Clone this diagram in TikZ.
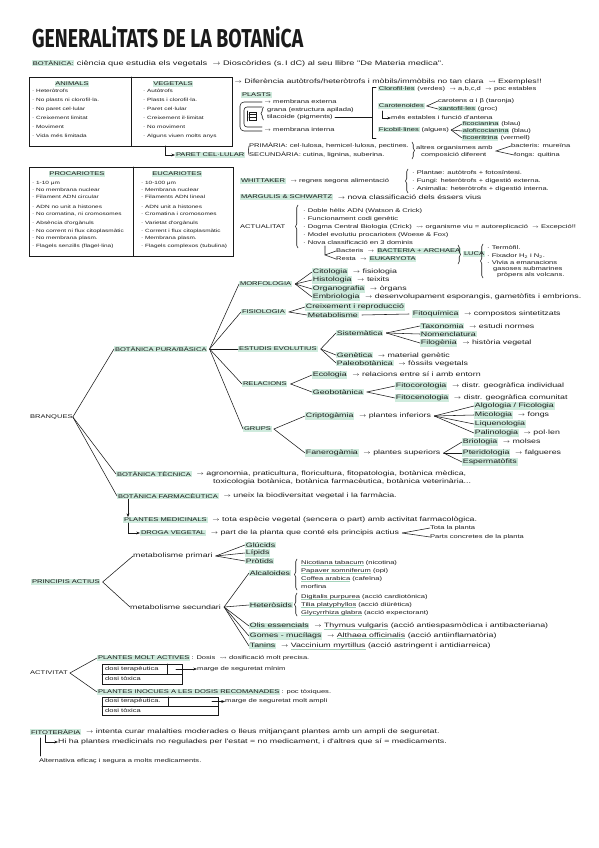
\documentclass[tikz,border=0pt]{standalone}
\usepackage{amssymb}
\usepackage{fontspec}
\usepackage{tikz}
\usetikzlibrary{arrows.meta,positioning,decorations.pathreplacing}
\newfontfamily\hand[FakeStretch=1.4]{Liberation Sans}
\newfontfamily\titlefont{Fira Sans}
\definecolor{ink}{HTML}{1A1A1A}
\definecolor{hlg}{HTML}{CFEBDD}
\definecolor{ulc}{HTML}{A3D3BB}
\newcommand\handfont{\hand\fontsize{6.3}{7}\selectfont}
\newcommand\smallhand{\hand\fontsize{5.4}{6}\selectfont}
\newcommand\boxhand{\hand\fontsize{4.6}{5.5}\selectfont}
\newcommand\ra{\ $\rightarrow$\ }
\newcommand\lra{\ $\leadsto$\ }
\newcommand\hl[1]{{\setlength{\fboxsep}{0.7pt}\colorbox{hlg}{#1}}}
\newcommand\ulg[1]{{\setbox0\hbox{#1}\rlap{\color{ulc}\rule[-1.4pt]{\wd0}{0.6pt}}\box0}}

\begin{document}
\begin{tikzpicture}[x=1pt,y=-1pt,font=\handfont,line cap=round,
  >={Stealth[length=1.3mm,width=1mm]},
  txt/.style={anchor=west,inner sep=0pt,text=ink},
  sm/.style={txt,font=\smallhand},
  bx/.style={txt,font=\boxhand},
  hd/.style={sm,fill=hlg,inner sep=0.8pt},
  ln/.style={draw=ink,line width=0.55pt},
  brc/.style={ln,decorate,decoration={brace,amplitude=2.5pt}}]
\useasboundingbox (0,0) rectangle (599,848);
% titol
\node[txt,anchor=south west] (title) at (32,48) {\resizebox{271pt}{21pt}{\titlefont\bfseries GENERALiTATS DE LA BOTANiCA}};
\node[txt,font=\hand\fontsize{6.6}{8}\selectfont] (def) at (32,63) {\hl{\smallhand BOTÀNICA:} ciència que estudia els vegetals \ra Dioscòrides (s.\,I dC) al seu llibre "De Materia medica".};
% animals / vegetals
\draw[ln] (29,77) rectangle (232,146) (131,77) -- (131,146);
\node[hd,anchor=center] (anim) at (72,84) {ANIMALS};
\node[hd,anchor=center] (vege) at (173,84) {VEGETALS};
\foreach \t [count=\i] in {Heteròtrofs,No plasts ni clorofil·la.,No paret cel·lular,Creixement limitat,Moviment,Vida més limitada}
  \node[bx] (an\i) at (32,{82+9*\i}) {· \t};
\foreach \t [count=\i] in {Autòtrofs,Plasts i clorofil·la.,Paret cel·lular,Creixement il·limitat,No moviment,Alguns viuen molts anys}
  \node[bx] (ve\i) at (143,{82+9*\i}) {· \t};
\node[txt] (dif) at (232,82) {\ra Diferència autòtrofs/heteròtrofs i mòbils/immòbils no tan clara \lra Exemples!!};
% plasts
\node[hd] (plasts) at (241,95) {PLASTS};
\draw[ln,rounded corners=4pt] (262,102) -- (240,102) -- (240,131) -- (262,131);
\draw[ln,rounded corners=3pt] (262,107) -- (244,107) -- (244,127) -- (262,127);
\draw[ln] (249,112) rectangle (256,120) (249,114.7) -- (256,114.7) (249,117.3) -- (256,117.3) (247,111) -- (247,121);
\node[sm] (mext) at (262,102) {\ra membrana externa};
\draw[brc] (263.5,120) -- (263.5,107);
\node[sm] (grana) at (267,110) {grana (estructura apilada)};
\node[sm] (tila) at (267,117) {tilacoide (pigments)};
\node[sm] (mint) at (262,130) {\ra membrana interna};
\coordinate (brk) at (372,117);
\draw[ln] ([xshift=2pt]tila.east) -- (brk);
\draw[ln] (376,87) -- (372,87) -- (372,138) -- (376,138);
\node[sm] (clf) at (378,89) {\hl{Clorofil·les} (verdes) \ra a,b,c,d \ra poc estables};
\node[sm] (car) at (378,106) {\hl{Carotenoides}};
\node[sm] (cart) at (438,101) {carotens α i β (taronja)};
\node[sm] (xan) at (438,109) {\hl{xantofil·les} (groc)};
\draw[ln] (cart.west) -- ([xshift=2pt]car.east) -- (xan.west);
\node[sm] (mes) at (391,118) {més estables i funció d'antena};
\draw[ln,->] (382,111) |- (mes.west);
\node[sm] (fic) at (378,130) {\hl{Ficobil·lines} (algues)};
\node[sm] (fic1) at (462,124) {\hl{ficocianina} (blau)};
\node[sm] (fic2) at (462,131) {\hl{aloficocianina} (blau)};
\node[sm] (fic3) at (462,138) {\hl{ficoeritrina} (vermell)};
\foreach \n in {fic1,fic2,fic3} \draw[ln] ([xshift=2pt]fic.east) -- (\n.west);
% paret
\node[hd] (paret) at (175,155) {PARET CEL·LULAR};
\draw[ln,->] (165,146) |- (paret.west);
\node[sm] (prim) at (249,146) {PRIMÀRIA: cel·lulosa, hemicel·lulosa, pectines.};
\node[sm] (secu) at (249,155) {SECUNDÀRIA: cutina, lignina, suberina.};
\coordinate (pv) at ([xshift=3pt,yshift=4pt]paret.east);
\draw[ln] (prim.west) -- (pv) -- (secu.west);
\draw[brc] (412,142) -- (412,159);
\node[sm] (altr) at (416,148) {altres organismes amb};
\node[sm] (comp) at (421,155) {composició diferent};
\coordinate (av) at ([xshift=3pt,yshift=-3pt]altr.east);
\node[sm] (bact) at (511,146) {bacteris: mureïna};
\node[sm] (fong) at (514,155) {fongs: quitina};
\draw[ln] (bact.west) -- (av) -- (fong.west);
% procariotes / eucariotes
\draw[ln] (29,167) rectangle (233,256) (133,167) -- (133,256);
\node[hd,anchor=center] (proc) at (77,174) {PROCARIOTES};
\node[hd,anchor=center] (euca) at (177,174) {EUCARIOTES};
\foreach \y/\t [count=\i] in {183/1-10 μm,190/No membrana nuclear,197/Filament ADN circular,207/ADN no unit a histones,214/{No cromatina, ni cromosomes},223/Absència d'orgànuls,231/No corrent ni flux citoplasmàtic,238/No membrana plasm.,246/Flagels senzills (flagel·lina)}
  \node[bx] (pr\i) at (32,\y) {· \t};
\foreach \y/\t [count=\i] in {183/10-100 μm,190/Membrana nuclear,197/Filaments ADN lineal,207/ADN unit a histones,214/Cromatina i cromosomes,223/Varietat d'orgànuls,231/Corrent i flux citoplasmàtic,238/Membrana plasm.,246/Flagels complexos (tubulina)}
  \node[bx] (eu\i) at (141,\y) {· \t};
% whittaker, margulis, actualitat
\node[hd] (whit) at (240,181) {WHITTAKER};
\node[sm,right=2pt of whit] (regn) {\ra regnes segons alimentació};
\draw[brc] (408,193) -- (408,169);
\node[sm] (wh1) at (412,173) {· Plantae: autòtrofs + fotosíntesi.};
\node[sm] (wh2) at (412,181) {· Fungi: heteròtrofs + digestió externa.};
\node[sm] (wh3) at (412,189) {· Animalia: heteròtrofs + digestió interna.};
\node[hd] (marg) at (240,197) {MARGULIS \& SCHWARTZ};
\node[txt,right=2pt of marg] (nova) {\ra nova classificació dels éssers vius};
\node[sm] (act) at (240,227) {ACTUALITAT};
\draw[brc] (298,248) -- (298,205);
\node[sm] (ac1) at (303,211) {· Doble hèlix ADN (Watson \& Crick)};
\node[sm] (ac2) at (303,219) {· Funcionament codi genètic};
\node[sm] (ac3) at (303,227) {· Dogma Central Biologia (Crick) \lra organisme viu = autoreplicació \ra Excepció!!};
\node[sm] (ac4) at (303,235) {· Model evolutiu procariotes (Woese \& Fox)};
\node[sm] (ac5) at (303,243) {· Nova classificació en 3 dominis};
\coordinate (dt) at (325,246);
\coordinate (dv) at (325,255);
\node[sm] (bac) at (336,251) {Bacteris \ra \hl{BACTERIA + ARCHAEA}};
\node[sm] (rest) at (336,259) {Resta \ra \hl{EUKARYOTA}};
\draw[ln] (dt) -- (dv) -- (bac.west) (dv) -- (rest.west);
\draw[brc] (458,245) -- (458,264);
\node[hd] (luca) at (463,254) {LUCA};
\draw[brc] (483,278) -- (483,244);
\node[sm] (lu1) at (487,248) {· Termòfil.};
\node[sm] (lu2) at (487,256) {· Fixador H\textsubscript{2} i N\textsubscript{2}.};
\node[sm] (lu3) at (487,263) {· Vivia a emanacions};
\node[sm] (lu4) at (493,269) {gasoses submarines};
\node[sm] (lu5) at (497,275) {pròpers als volcans.};
% branques
\node[sm] (branq) at (30,417) {BRANQUES};
\node[hd] (pura) at (114,349) {BOTÀNICA PURA/BÀSICA};
\node[hd] (tec) at (116,474) {BOTÀNICA TÈCNICA};
\node[hd] (farm) at (117,496) {BOTÀNICA FARMACÈUTICA};
\foreach \n in {pura,tec,farm} \draw[ln] (branq.east) -- (\n.west);
\node[txt,right=2pt of tec] (tec1) {\ra agronomia, praticultura, floricultura, fitopatologia, botànica mèdica,};
\node[txt] (tec2) at (213,482) {toxicologia botànica, botànica farmacèutica, botànica veterinària...};
\node[txt,right=2pt of farm] (farm1) {\ra uneix la biodiversitat vegetal i la farmàcia.};
\node[hd] (morf) at (239,284) {MORFOLOGIA};
\node[hd] (fisi) at (241,312) {FISIOLOGIA};
\node[hd] (evol) at (238,349) {ESTUDIS EVOLUTIUS};
\node[hd] (rel) at (242,384) {RELACIONS};
\node[hd] (grup) at (243,429) {GRUPS};
\foreach \n in {morf,fisi,evol,rel,grup} \draw[ln] ([xshift=2pt]pura.east) -- (\n.west);
% morfologia
\node[txt] (cito) at (312,272) {\hl{Citologia} \ra fisiologia};
\node[txt] (hist) at (312,280) {\hl{Histologia} \ra teixits};
\node[txt] (orga) at (312,289) {\hl{Organografia} \ra òrgans};
\node[txt] (embr) at (312,297) {\hl{Embriologia} \ra desenvolupament esporangis, gametòfits i embrions.};
\foreach \n in {cito,hist,orga,embr} \draw[ln] ([xshift=3pt]morf.east) -- (\n.west);
% fisiologia
\node[txt] (creix) at (305,307) {\hl{Creixement i reproducció}};
\node[txt] (meta) at (307,315) {\hl{Metabolisme}};
\node[txt] (fitoq) at (412,314) {\hl{Fitoquímica} \ra compostos sintetitzats};
\foreach \n in {creix,meta} \draw[ln] ([xshift=3pt]fisi.east) -- (\n.west);
\draw[ln] ([xshift=3pt]meta.east) -- ([xshift=-3pt]fitoq.west);
% estudis evolutius
\node[txt] (sist) at (336,333) {\hl{Sistemàtica}};
\node[txt] (gene) at (336,355) {\hl{Genètica} \ra material genètic};
\node[txt] (paleo) at (336,363) {\hl{Paleobotànica} \ra fòssils vegetals};
\foreach \n in {sist,gene,paleo} \draw[ln] ([xshift=3pt]evol.east) -- (\n.west);
\node[txt] (taxo) at (420,326) {\hl{Taxonomia} \ra estudi normes};
\node[txt] (nome) at (420,334) {\hl{Nomenclatura}};
\node[txt] (filo) at (420,343) {\hl{Filogènia} \ra història vegetal};
\foreach \n in {taxo,nome,filo} \draw[ln] ([xshift=3pt]sist.east) -- (\n.west);
% relacions
\node[txt] (eco) at (312,375) {\hl{Ecologia} \ra relacions entre sí i amb entorn};
\node[txt] (geob) at (312,392) {\hl{Geobotànica}};
\foreach \n in {eco,geob} \draw[ln] ([xshift=3pt]rel.east) -- (\n.west);
\node[txt] (coro) at (395,386) {\hl{Fitocorologia} \ra distr. geogràfica individual};
\node[txt] (ceno) at (395,398) {\hl{Fitocenologia} \ra distr. geogràfica comunitat};
\foreach \n in {coro,ceno} \draw[ln] ([xshift=3pt]geob.east) -- (\n.west);
% grups
\node[txt] (cript) at (305,416) {\hl{Criptogàmia} \ra plantes inferiors};
\node[txt] (faner) at (305,453) {\hl{Fanerogàmia} \ra plantes superiors};
\foreach \n in {cript,faner} \draw[ln] ([xshift=2pt]grup.east) -- (\n.west);
\node[txt] (algo) at (474,406) {\hl{Algologia / Ficologia}};
\node[txt] (mico) at (474,415) {\hl{Micologia} \ra fongs};
\node[txt] (lique) at (474,424) {\hl{Liquenologia}};
\node[txt] (pali) at (474,433) {\hl{Palinologia} \ra pol·len};
\foreach \n in {algo,mico,lique,pali} \draw[ln] ([xshift=3pt]cript.east) -- (\n.west);
\node[txt] (brio) at (462,442) {\hl{Briologia} \ra molses};
\node[txt] (pteri) at (462,453) {\hl{Pteridologia} \ra falgueres};
\node[txt] (esper) at (462,462) {\hl{Espermatòfits}};
\foreach \n in {brio,pteri,esper} \draw[ln] ([xshift=3pt]faner.east) -- (\n.west);
% plantes medicinals
\node[hd] (pmed) at (123,520) {PLANTES MEDICINALS};
\draw[ln,->] ([xshift=11pt]farm.south west) -- ([xshift=5pt]pmed.north west);
\node[txt,right=2pt of pmed] (pmed1) {\ra tota espècie vegetal (sencera o part) amb activitat farmacològica.};
\node[hd] (droga) at (140,533) {DROGA VEGETAL};
\draw[ln,->] ([xshift=5pt]pmed.south west) |- (droga.west);
\node[txt,right=2pt of droga] (droga1) {\ra part de la planta que conté els principis actius};
\node[sm] (tota) at (430,528) {Tota la planta};
\node[sm] (parts) at (430,537) {Parts concretes de la planta};
\foreach \n in {tota,parts} \draw[ln] ([xshift=3pt]droga1.east) -- (\n.west);
% principis actius
\node[hd] (pact) at (31,582) {PRINCIPIS ACTIUS};
\node[txt] (mprim) at (133,556) {metabolisme primari};
\node[txt] (msec) at (130,607) {metabolisme secundari};
\foreach \n in {mprim,msec} \draw[ln] ([xshift=2pt]pact.east) -- (\n.west);
\node[txt] (gluc) at (245,545) {\hl{Glúcids}};
\node[txt] (lipi) at (245,553) {\hl{Lípids}};
\node[txt] (prot) at (245,561) {\hl{Pròtids}};
\foreach \n in {gluc,lipi,prot} \draw[ln] ([xshift=3pt]mprim.east) -- (\n.west);
\node[txt] (alca) at (249,573) {\hl{Alcaloides}};
\node[txt] (hete) at (249,605) {\hl{Heteròsids}};
\node[txt] (olis) at (249,626) {\hl{Olis essencials} \ra \ulg{Thymus vulgaris} (acció antiespasmòdica i antibacteriana)};
\node[txt] (gome) at (249,636) {\hl{Gomes - mucílags} \ra \ulg{Althaea officinalis} (acció antiinflamatòria)};
\node[txt] (tani) at (249,646) {\hl{Tanins} \ra \ulg{Vaccinium myrtillus} (acció astringent i antidiarreica)};
\foreach \n in {alca,hete,olis,gome,tani} \draw[ln] ([xshift=3pt]msec.east) -- (\n.west);
\draw[brc] (297,590) -- (297,559);
\node[sm] (al1) at (301,563) {\ulg{Nicotiana tabacum} (nicotina)};
\node[sm] (al2) at (301,571) {\ulg{Papaver somniferum} (opi)};
\node[sm] (al3) at (301,579) {\ulg{Coffea arabica} (cafeïna)};
\node[sm] (al4) at (301,587) {morfina};
\draw[brc] (297,616) -- (297,593);
\node[sm] (he1) at (301,597) {\ulg{Digitalis purpurea} (acció cardiotònica)};
\node[sm] (he2) at (301,605) {\ulg{Tilia platyphyllos} (acció diürètica)};
\node[sm] (he3) at (301,613) {\ulg{Glycyrrhiza glabra} (acció expectorant)};
% activitat
\node[sm] (activ) at (30,673) {ACTIVITAT};
\node[hd] (molt) at (97,658) {PLANTES MOLT ACTIVES};
\node[hd] (inoc) at (97,692) {PLANTES INOCUES A LES DOSIS RECOMANADES};
\foreach \n in {molt,inoc} \draw[ln] ([xshift=2pt]activ.east) -- (\n.west);
\node[sm,right=1pt of molt] (molt1) {: Dosis \lra dosificació molt precisa.};
\node[sm,right=1pt of inoc] (inoc1) {: poc tòxiques.};
\draw[ln] (102,664) rectangle (182,684) (102,674) -- (182,674) (167,664) -- (167,674);
\node[sm] (t1a) at (105,669) {dosi terapèutica};
\node[sm] (t1b) at (105,679) {dosi tòxica};
\coordinate (t1c) at (176,669);
\node[sm] (mg1) at (197,669) {marge de seguretat mínim};
\draw[ln,->] (t1c) -- (mg1.west);
\draw[ln] (102,697) rectangle (218,715) (102,706) -- (218,706) (168,697) -- (168,706);
\node[sm] (t2a) at (105,701.5) {dosi terapèutica.};
\node[sm] (t2b) at (105,710.5) {dosi tòxica};
\coordinate (t2c) at (212,701.5);
\node[sm] (mg2) at (225,701.5) {marge de seguretat molt ampli};
\draw[ln,->] (t2c) -- (mg2.west);
% fitoterapia
\node[hd] (fito) at (30,732) {FITOTERÀPIA};
\node[txt,right=2pt of fito] (fito1) {\ra intenta curar malalties moderades o lleus mitjançant plantes amb un ampli de seguretat.};
\node[txt] (hiha) at (58,742) {Hi ha plantes medicinals no regulades per l'estat = no medicament, i d'altres que sí = medicaments.};
\draw[ln] (40,738) -- (40,756);
\draw[ln,->] (45,735) |- (hiha.west);
\node[sm] (alte) at (39,761) {Alternativa eficaç i segura a molts medicaments.};
\end{tikzpicture}
\end{document}
